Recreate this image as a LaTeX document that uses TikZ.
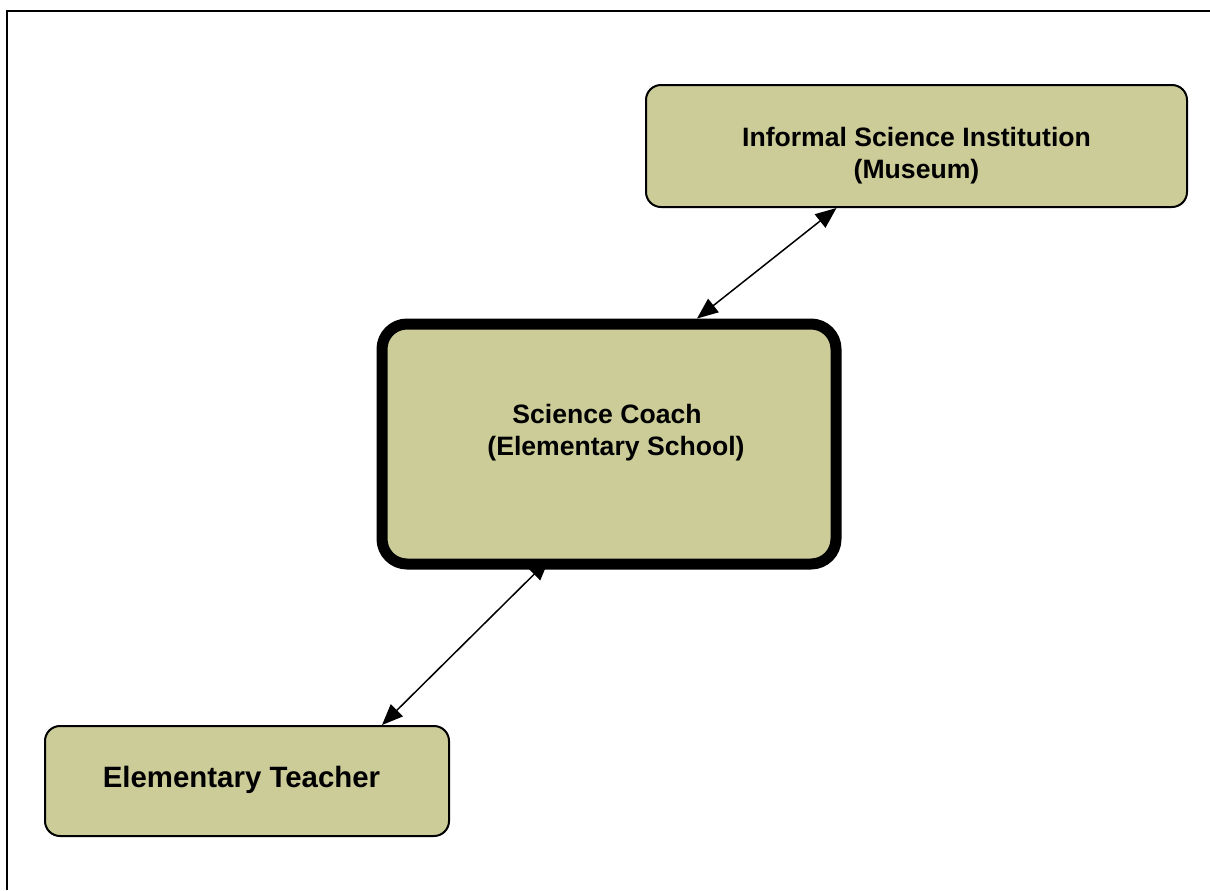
\documentclass[tikz,border=0pt]{standalone}
\usepackage{fontspec}
\setmainfont{Liberation Sans}
\usetikzlibrary{arrows.meta,calc}
\definecolor{boxfill}{RGB}{204,204,153}
\tikzset{
  box/.style={draw=black, fill=boxfill, rounded corners=7.5pt, line width=1pt, inner sep=0pt},
  bigbox/.style={draw=black, fill=boxfill, rounded corners=12.5pt, line width=5.5pt, inner sep=0pt},
  lbl/.style={font=\fontsize{13.3}{16}\selectfont\bfseries, align=center, inner sep=0pt},
  lblbig/.style={font=\fontsize{14.7}{17}\selectfont\bfseries, align=center, inner sep=0pt},
  link/.style={line width=0.75pt, {Triangle[length=10.5pt,width=8.5pt]}-{Triangle[length=10.5pt,width=8.5pt]}},
  frame/.style={line width=1pt}
}
\begin{document}
\begin{tikzpicture}[x=0.5pt,y=-0.5pt]
\useasboundingbox (0,0) rectangle (1210,890);
\draw[frame] (7,890) -- (7,11) -- (1210,11);
\node[box, minimum width=270.5pt, minimum height=61pt] (museum) at (916.5,146) {};
\node[lbl] (museumtxt) at (916.5,156) {Informal Science Institution\\(Museum)};
\node[bigbox, minimum width=227pt, minimum height=120pt] (coach) at (609,444) {};
\node[lbl] (coachtxt) at (607,432.5) {Science Coach\\\hspace*{9pt}(Elementary School)};
\node[box, minimum width=202pt, minimum height=55pt] (teacher) at (247,781) {};
\node[lblbig] (teachertxt) at (241.5,780) {Elementary Teacher};
\draw[link] ($(museum.south)+(-80,0)$) -- ($(coach.north)+(88,0)$);
\draw[link] ($(coach.south)+(-60,-10)$) -- ($(teacher.north)+(135,0)$);
\end{tikzpicture}
\end{document}
